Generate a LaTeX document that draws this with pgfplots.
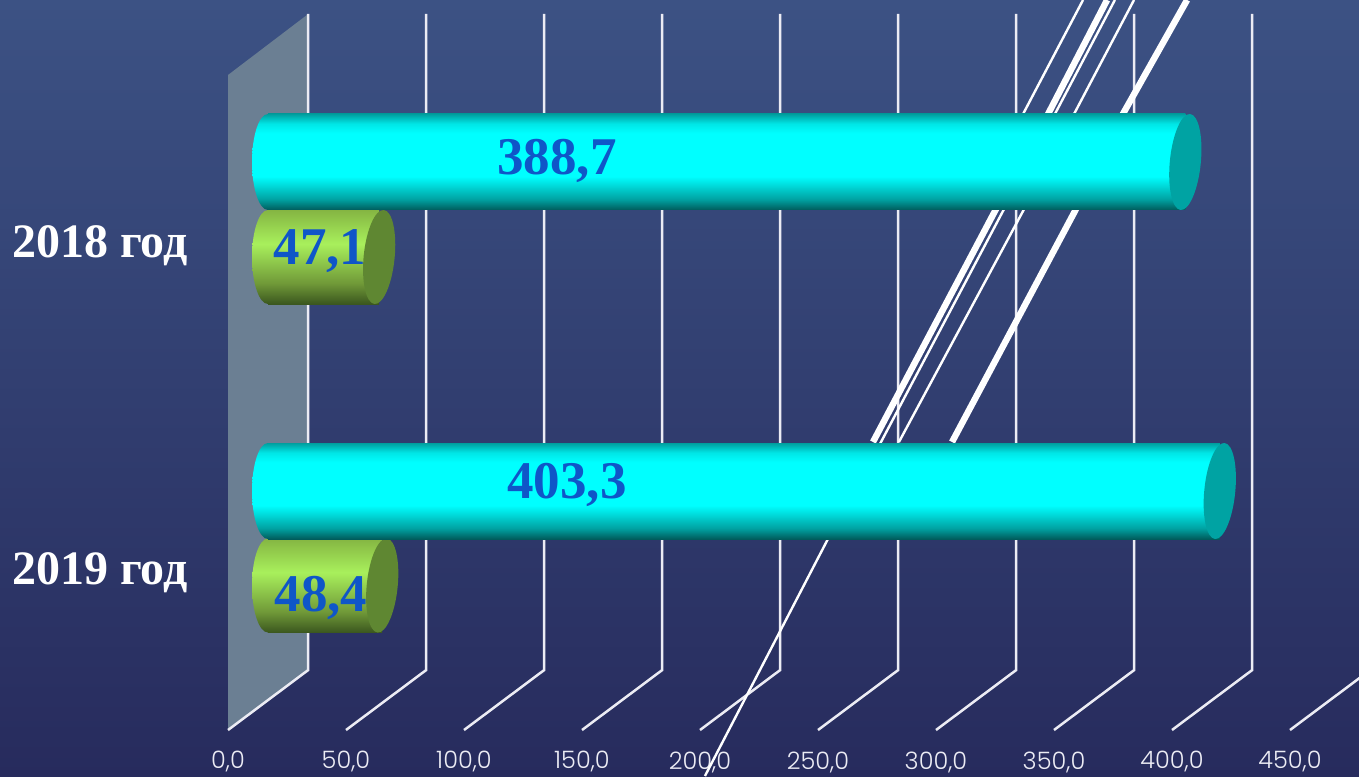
\documentclass[border=0pt]{standalone}
\usepackage{fontspec}
\usepackage{pgfplots}
\pgfplotsset{compat=1.18}
\setmainfont{Liberation Serif}
\newfontfamily\tickfont{Poppins Light}

% 1 pixel of the reference = 1pt, y counts up from the bottom edge
\definecolor{gridc}{HTML}{ECECF4}
\definecolor{wallc}{HTML}{6B7F93}
\definecolor{labelc}{HTML}{0F56C8}
\definecolor{cyanend}{HTML}{00A3A3}
\definecolor{greenend}{HTML}{5F8732}
\definecolor{bgtop}{RGB}{60,82,132}
\definecolor{bgbot}{RGB}{39,43,93}

\pgfdeclareverticalshading{cylcyan}{100bp}{
  rgb(0bp)=(0,.36,.36); rgb(25bp)=(0,.36,.36); rgb(30.5bp)=(0,.63,.63); rgb(42.5bp)=(0,1,1);
  rgb(65bp)=(0,1,1); rgb(70bp)=(0,.9,.9); rgb(75bp)=(0,.62,.62); rgb(100bp)=(0,.62,.62)}
\pgfdeclareverticalshading{cylgreen}{100bp}{
  rgb(0bp)=(.23,.34,.12); rgb(25bp)=(.23,.34,.12); rgb(36bp)=(.44,.6,.22);
  rgb(57bp)=(.66,.94,.36); rgb(75bp)=(.52,.71,.26); rgb(100bp)=(.52,.71,.26)}

% cylinder ends: rounded left side takes the bar's shading, tilted right face is flat
\pgfdeclareplotmark{lcapcyan}{\pgfpathellipse{\pgfpointorigin}{\pgfqpoint{16pt}{0pt}}{\pgfqpoint{0pt}{48pt}}\pgfshadepath{cylcyan}{0}\pgfusepath{discard}}
\pgfdeclareplotmark{lcapgreen}{\pgfpathellipse{\pgfpointorigin}{\pgfqpoint{16pt}{0pt}}{\pgfqpoint{0pt}{47pt}}\pgfshadepath{cylgreen}{0}\pgfusepath{discard}}
\pgfdeclareplotmark{rcapcyan}{\pgfsetfillcolor{cyanend}\pgfpathellipse{\pgfpointorigin}{\pgfqpoint{15.4pt}{-1.6pt}}{\pgfqpoint{4.8pt}{48pt}}\pgfusepathqfill}
\pgfdeclareplotmark{rcapgreen}{\pgfsetfillcolor{greenend}\pgfpathellipse{\pgfpointorigin}{\pgfqpoint{15.4pt}{-1.6pt}}{\pgfqpoint{4.7pt}{47pt}}\pgfusepathqfill}

\pgfplotsset{
  cylbar/.style={xbar, bar width=#1, bar shift=0pt, xshift=40pt, draw=none, shade},
  cyan bar/.style={cylbar=96pt, shading=cylcyan},
  green bar/.style={cylbar=94pt, shading=cylgreen},
  cap/.style={only marks, xshift=40pt, mark=#1},
}

\begin{document}
\begin{tikzpicture}
\begin{axis}[
    at={(0,0)}, anchor=south west,
    scale only axis, width=1359pt, height=776pt,
    xmin=-96.61, xmax=479.24, ymin=0, ymax=776,
    clip mode=individual,
    axis line style={draw=none},
    major tick length=0pt, tick style={draw=none},
    axis background/.style={shade, shading angle=-24, top color=bgtop, bottom color=bgbot},
    xtick={0,50,100,150,200,250,300,350,400,450},
    tick label style={text=gridc, inner sep=0pt},
    xticklabel style={font=\tickfont\fontsize{24}{28}\selectfont, anchor=center, yshift=14pt},
    x tick label style={/pgf/number format/.cd, fixed, fixed zerofill, precision=1, use comma, assume math mode=true},
    ytick={203,530},
    yticklabels={2019 год,2018 год},
    yticklabel style={font=\bfseries\fontsize{48}{52}\selectfont, text=white, anchor=west, xshift=12pt},
]
% left wall
\addplot[fill=wallc, draw=none] coordinates {(0,46) (34,106) (34,762) (0,701)} -- cycle;
% gridlines, front edge to back wall
\addplot[gridc, line width=2.5pt, no markers, unbounded coords=jump, line join=miter] coordinates {
  (0,46) (34,106) (34,762) (nan,nan)
  (50,46) (84,106) (84,762) (nan,nan)
  (100,46) (134,106) (134,762) (nan,nan)
  (150,46) (184,106) (184,762) (nan,nan)
  (200,46) (234,106) (234,762) (nan,nan)
  (250,46) (284,106) (284,762) (nan,nan)
  (300,46) (334,106) (334,762) (nan,nan)
  (350,46) (384,106) (384,762) (nan,nan)
  (400,46) (434,106) (434,762) (nan,nan)
  (450,46) (484,106) (484,762)
};
% stray diagonal strokes behind the bars
\addplot[white, line width=6.4pt, no markers] coordinates {(406.4,776) (379.2,662) (358.9,565) (306.8,334)};
\addplot[white, line width=6.4pt, no markers] coordinates {(372.5,776) (347.5,662) (325,565) (273.3,334)};
\addplot[white, line width=2.4pt, no markers] coordinates {(375.8,776) (350.4,662) (328.4,565) (276.7,334) (254.2,237) (202.1,0)};
\addplot[white, line width=2.4pt, no markers] coordinates {(383.9,776) (358.5,662) (336.9,565) (284.3,334)};
\addplot[white, line width=2.4pt, no markers] coordinates {(362.3,776) (336.9,662) (327.1,580)};

% bars
\addplot[cap=lcapgreen] coordinates {(0,519) (0,190.5)};
\addplot[green bar] coordinates {(47.1,519)};
\addplot[green bar] coordinates {(48.4,190.5)};
\addplot[cap=rcapgreen] coordinates {(47.1,519) (48.4,190.5)};
\addplot[cap=lcapcyan] coordinates {(0,614) (0,285)};
\addplot[cyan bar] coordinates {(388.7,614)};
\addplot[cyan bar] coordinates {(403.3,285)};
\addplot[cap=rcapcyan] coordinates {(388.7,614) (403.3,285)};

% value labels
\node[text=labelc, font=\bfseries\fontsize{53}{56}\selectfont] at (axis cs:139.4,615) {388,7};
\node[text=labelc, font=\bfseries\fontsize{53}{56}\selectfont] at (axis cs:39,525) {47,1};
\node[text=labelc, font=\bfseries\fontsize{53}{56}\selectfont] at (axis cs:143.6,291) {403,3};
\node[text=labelc, font=\bfseries\fontsize{53}{56}\selectfont] at (axis cs:39.4,178) {48,4};
\end{axis}
\end{tikzpicture}
\end{document}
